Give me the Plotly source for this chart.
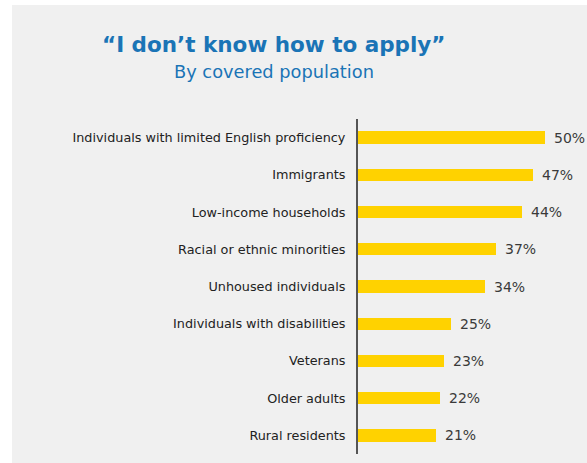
import plotly.graph_objects as go

# Share of respondents citing "I don't know how to apply", by covered population
populations = [
    "Individuals with limited English proficiency",
    "Immigrants",
    "Low-income households",
    "Racial or ethnic minorities",
    "Unhoused individuals",
    "Individuals with disabilities",
    "Veterans",
    "Older adults",
    "Rural residents",
]
shares = [50, 47, 44, 37, 34, 25, 23, 22, 21]

W, H = 587, 463
M_L, M_R, M_T, M_B = 358, 5, 119, 9
plot_w = W - M_L - M_R
plot_h = H - M_T - M_B


def px_x(p):
    return (p - M_L) / plot_w


def px_y(p):
    return (H - M_B - p) / plot_h


BLUE = "#1a74b6"
YELLOW = "#ffd200"
FONT = "DejaVu Sans"

fig = go.Figure(
    go.Bar(
        x=shares,
        y=populations,
        orientation="h",
        marker=dict(color=YELLOW, line=dict(width=0)),
        width=0.33,
        hoverinfo="x+y",
    )
)

# Percentage labels just past each bar end
for name, val in zip(populations, shares):
    fig.add_annotation(
        x=val, y=name, xref="x", yref="y",
        text=f"{val}%", showarrow=False,
        xanchor="left", yanchor="middle", xshift=7,
        font=dict(family=FONT, size=14, color="#3a3a3a"),
    )

# Title and subtitle
fig.add_annotation(
    x=px_x(274), y=px_y(44), xref="paper", yref="paper",
    text="<b>\u201cI don\u2019t know how to apply\u201d</b>", showarrow=False,
    xanchor="center", yanchor="middle",
    font=dict(family=FONT, size=21.5, color=BLUE),
)
fig.add_annotation(
    x=px_x(274), y=px_y(71), xref="paper", yref="paper",
    text="By covered population", showarrow=False,
    xanchor="center", yanchor="middle",
    font=dict(family=FONT, size=17.8, color=BLUE),
)

fig.update_layout(
    width=W, height=H,
    margin=dict(l=M_L, r=M_R, t=M_T, b=M_B),
    paper_bgcolor="white",
    plot_bgcolor="rgba(0,0,0,0)",
    showlegend=False,
    bargap=0,
    shapes=[
        dict(type="rect", xref="paper", yref="paper", layer="below",
             x0=px_x(12), x1=px_x(W + 5), y0=px_y(H + 5), y1=px_y(5),
             fillcolor="#f0f0f0", line=dict(width=0)),
    ],
    xaxis=dict(range=[0, 60], visible=False, fixedrange=True),
    yaxis=dict(
        categoryorder="array", categoryarray=populations[::-1],
        range=[-0.5, 8.5],
        showgrid=False, zeroline=False,
        showline=True, linecolor="#555555", linewidth=2,
        ticks="", ticklabelstandoff=8,
        tickfont=dict(family=FONT, size=12.8, color="#222222"),
    ),
)

fig.write_html("out.html")
